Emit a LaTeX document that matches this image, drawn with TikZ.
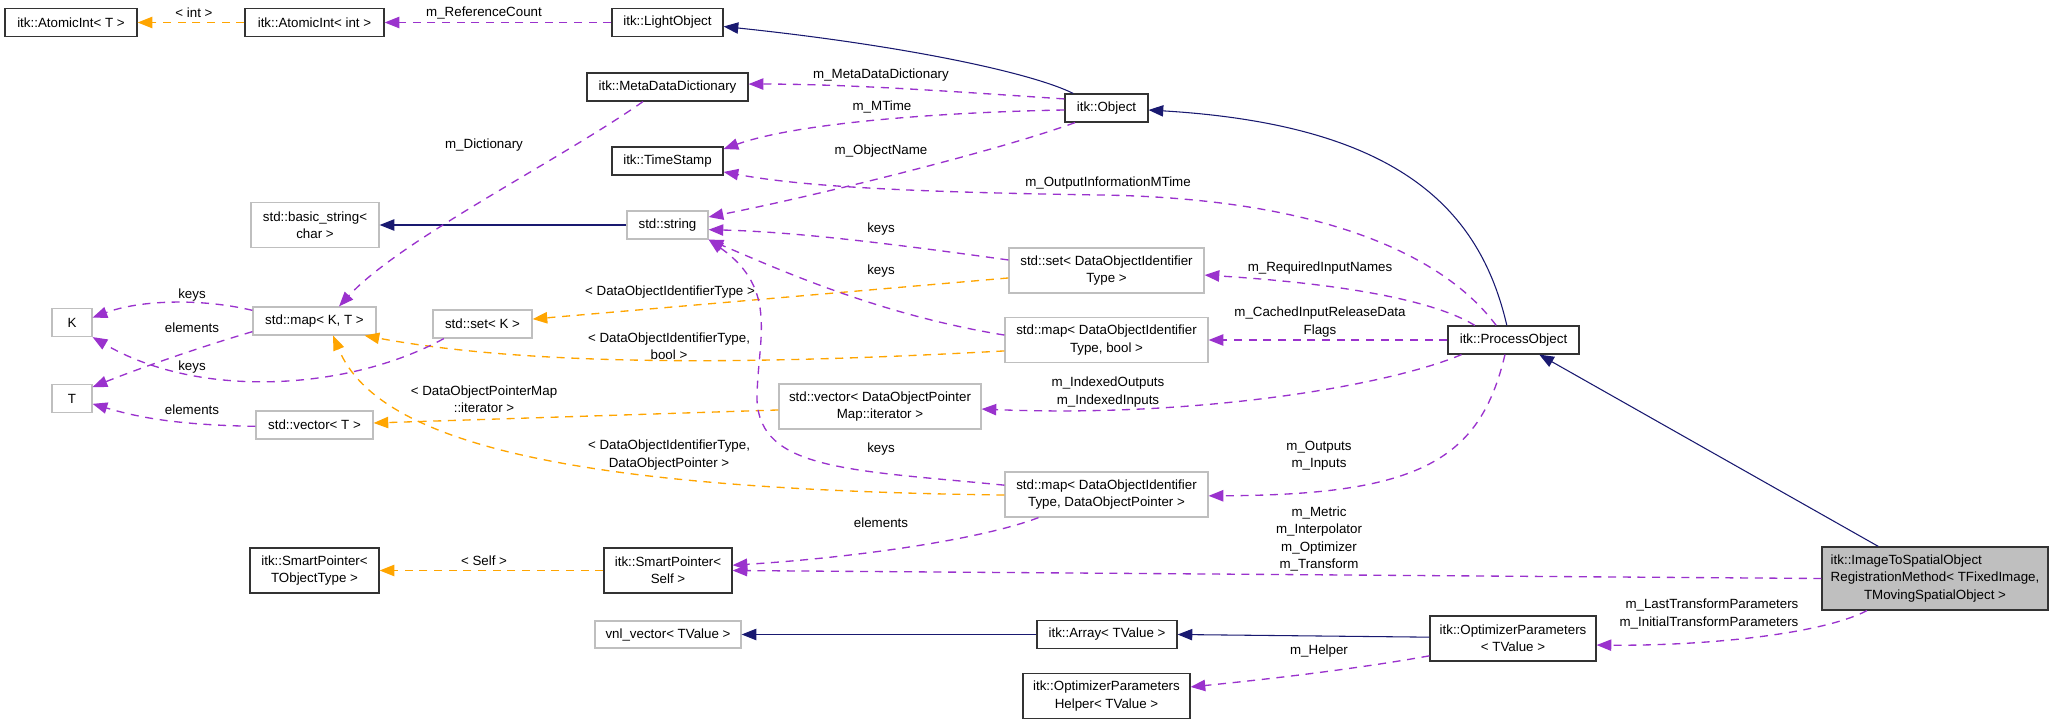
\documentclass[tikz,border=0pt]{standalone}
\usepackage{fontspec}
\setmainfont{Liberation Sans}
\usetikzlibrary{arrows.meta}
\definecolor{edgenavy}{HTML}{191970}
\definecolor{edgepurple}{HTML}{9A32CD}
\definecolor{edgeorange}{HTML}{FFA500}
\definecolor{boxgrey}{HTML}{BFBFBF}
\newlength{\dpx}
\setlength{\dpx}{0.75pt}
\tikzset{
  classbox/.style={draw=black!80, line width=0.9pt, fill=white, align=center,
    inner sep=1pt, minimum height=28\dpx},
  twoline/.style={minimum height=45\dpx},
  stdbox/.style={classbox, draw=boxgrey},
  focusbox/.style={classbox, fill=boxgrey},
  headtip/.style={-{Triangle[length=11pt, width=8.5pt]}},
  inherit/.style={headtip, line width=0.8pt, draw=edgenavy},
  usage/.style={headtip, line width=1pt, draw=edgepurple, dash pattern=on 6pt off 5pt},
  tmplflow/.style={usage, draw=edgeorange},
  edgelab/.style={inner sep=0pt, align=center},
}

\begin{document}
\begin{tikzpicture}[x=0.75pt, y=-0.75pt, font=\fontsize{10}{13}\selectfont]
\useasboundingbox (0,0) rectangle (2053,724);
% itk classes
\node[classbox, minimum width=132\dpx] (aiT) at (71,22.5) {itk::AtomicInt< T >};
\node[classbox, minimum width=139\dpx] (aiint) at (314.5,22.5) {itk::AtomicInt< int >};
\node[classbox, minimum width=111\dpx] (light) at (667.5,22.5) {itk::LightObject};
\node[classbox, minimum width=161\dpx] (mdd) at (667.5,87) {itk::MetaDataDictionary};
\node[classbox, minimum width=111\dpx] (ts) at (667.5,161) {itk::TimeStamp};
\node[classbox, minimum width=83\dpx] (obj) at (1106.5,108) {itk::Object};
\node[classbox, minimum width=131\dpx] (proc) at (1513.5,340) {itk::ProcessObject};
\node[classbox, twoline, minimum width=128\dpx] (sps) at (668,570.5) {itk::SmartPointer<\\Self >};
\node[classbox, twoline, minimum width=129\dpx] (spt) at (314.5,570.5) {itk::SmartPointer<\\TObjectType >};
\node[classbox, minimum width=140\dpx] (arr) at (1107,634.5) {itk::Array< TValue >};
\node[classbox, twoline, minimum width=167\dpx] (oph) at (1106.5,696) {itk::OptimizerParameters\\Helper< TValue >};
\node[classbox, twoline, minimum width=166\dpx] (opar) at (1513,638.5) {itk::OptimizerParameters\\< TValue >};
\node[focusbox, minimum width=226\dpx, minimum height=63\dpx] (img) at (1935,578.5)
  {\begin{tabular}{@{}l@{}}itk::ImageToSpatialObject\\RegistrationMethod< TFixedImage,\\
   \multicolumn{1}{@{}c@{}}{TMovingSpatialObject >}\end{tabular}};
% std and template parameters
\node[stdbox, twoline, minimum width=128\dpx] (bstr) at (315,225) {std::basic\_string<\\char >};
\node[stdbox, minimum width=81\dpx] (str) at (667.5,225) {std::string};
\node[stdbox, minimum width=40\dpx] (k) at (72,322.5) {K};
\node[stdbox, minimum width=40\dpx] (t) at (72,398.5) {T};
\node[stdbox, minimum width=123\dpx] (mkt) at (314.5,321) {std::map< K, T >};
\node[stdbox, minimum width=99\dpx] (sk) at (482.5,324) {std::set< K >};
\node[stdbox, minimum width=117\dpx] (vt) at (314.5,425) {std::vector< T >};
\node[stdbox, twoline, minimum width=195\dpx] (sdoit) at (1106.5,270.5) {std::set< DataObjectIdentifier\\Type >};
\node[stdbox, twoline, minimum width=203\dpx] (mdb) at (1106.5,340) {std::map< DataObjectIdentifier\\Type, bool >};
\node[stdbox, twoline, minimum width=202\dpx] (vdp) at (880,406.5) {std::vector< DataObjectPointer\\Map::iterator >};
\node[stdbox, twoline, minimum width=203\dpx] (mdp) at (1106.5,494.5) {std::map< DataObjectIdentifier\\Type, DataObjectPointer >};
\node[stdbox, minimum width=146\dpx, minimum height=27\dpx] (vnl) at (668,634.5) {vnl\_vector< TValue >};
% inheritance
\draw[inherit] ([xshift=-25pt]obj.north) .. controls (1030,72) and (900,45) .. ([yshift=-3pt]light.east);
\draw[inherit] ([xshift=-5pt]proc.north) .. controls (1480,210) and (1400,125) .. ([yshift=-1.5pt]obj.east);
\draw[inherit] (img) -- (proc);
\draw[inherit] (str.west) -- (bstr.east);
\draw[inherit] ([yshift=1pt]opar.west) -- (arr.east);
\draw[inherit] (arr.west) -- (vnl.east);
% template instances
\draw[tmplflow] (aiint.west) -- (aiT.east) node[edgelab] at (194,13) {< int >};
\draw[tmplflow] ([yshift=-5.6pt]sdoit.west) -- ([yshift=3.7pt]sk.east)
  node[edgelab] at (670,292) {< DataObjectIdentifierType >};
\draw[tmplflow] ([yshift=-8.2pt]mdb.west) .. controls (800,362) and (550,370) .. ([xshift=-9pt]mkt.south east)
  node[edgelab] at (669,346) {< DataObjectIdentifierType,\\bool >};
\draw[tmplflow] ([yshift=-2.6pt]vdp.west) -- ([yshift=1.5pt]vt.east)
  node[edgelab] at (484,399) {< DataObjectPointerMap\\::iterator >};
\draw[tmplflow] ([yshift=-0.4pt]mdp.west) .. controls (600,490) and (380,450) .. ([xshift=14pt]mkt.south)
  node[edgelab] at (669,455) {< DataObjectIdentifierType,\\DataObjectPointer >};
\draw[tmplflow] (sps.west) -- (spt.east) node[edgelab] at (484,561) {< Self >};
% members
\draw[usage] (light.west) -- (aiint.east) node[edgelab] at (484,13) {m\_ReferenceCount};
\draw[usage] ([yshift=6.8pt]obj.west) .. controls (960,92) and (850,84) .. ([yshift=2.2pt]mdd.east)
  node[edgelab] at (881,75) {m\_MetaDataDictionary};
\draw[usage] ([yshift=-1.5pt]obj.west) .. controls (950,112) and (800,122) .. ([yshift=9pt]ts.east)
  node[edgelab] at (882,107) {m\_MTime};
\draw[usage] ([xshift=-23.6pt]obj.south) .. controls (1000,150) and (820,195) .. ([yshift=6pt]str.east)
  node[edgelab] at (881,151) {m\_ObjectName};
\draw[usage] ([xshift=-13pt]proc.north) .. controls (1440,250) and (1310,198) .. (1100,195)
  .. controls (900,192) and (800,186) .. ([yshift=-8.2pt]ts.east)
  node[edgelab] at (1108,183) {m\_OutputInformationMTime};
\draw[usage] ([xshift=-18.4pt]mdd.south) .. controls (560,160) and (400,240) .. ([xshift=18.4pt]mkt.north)
  node[edgelab] at (484,145) {m\_Dictionary};
\draw[usage] ([yshift=7.9pt]sdoit.west) .. controls (900,245) and (800,232) .. ([yshift=-3.5pt]str.east)
  node[edgelab] at (881,229) {keys};
\draw[usage] ([yshift=3.7pt]mdb.west) .. controls (880,315) and (780,270) .. (str.south east)
  node[edgelab] at (881,271) {keys};
\draw[usage] ([yshift=7pt]mdp.west) .. controls (850,470) and (760,470) .. (757,400)
  .. controls (757,340) and (780,290) .. (str.south east)
  node[edgelab] at (881,449) {keys};
\draw[usage] ([yshift=8pt]mkt.west) .. controls (200,298) and (140,300) .. ([yshift=3.7pt]k.east)
  node[edgelab] at (192,295) {keys};
\draw[usage] ([yshift=-8pt]mkt.west) .. controls (190,350) and (130,372) .. ([yshift=8.6pt]t.east)
  node[edgelab] at (192,328) {elements};
\draw[usage] ([xshift=-29pt]sk.south) .. controls (350,390) and (200,400) .. (k.south east)
  node[edgelab] at (192,367) {keys};
\draw[usage] ([yshift=-1pt]vt.west) .. controls (180,425) and (140,418) .. ([yshift=-4pt]t.east)
  node[edgelab] at (192,410) {elements};
\draw[usage] ([xshift=-29pt]proc.north) .. controls (1430,298) and (1330,283) .. ([yshift=-3.4pt]sdoit.east)
  node[edgelab] at (1320,268) {m\_RequiredInputNames};
\draw[usage] (proc.west) -- (mdb.east)
  node[edgelab] at (1320,322) {m\_CachedInputReleaseData\\Flags};
\draw[usage] ([xshift=-39pt]proc.south) .. controls (1390,385) and (1200,418) .. ([yshift=-1.9pt]vdp.east)
  node[edgelab] at (1108,392) {m\_IndexedOutputs\\m\_IndexedInputs};
\draw[usage] ([xshift=-6.4pt]proc.south) .. controls (1480,460) and (1420,495) .. ([yshift=-1pt]mdp.east)
  node[edgelab] at (1319,456) {m\_Outputs\\m\_Inputs};
\draw[usage] ([xshift=-51pt]mdp.south) .. controls (980,540) and (850,558) .. ([yshift=4pt]sps.east)
  node[edgelab] at (881,523) {elements};
\draw[usage] (img.west) -- (sps.east)
  node[edgelab] at (1319,539) {m\_Metric\\m\_Interpolator\\m\_Optimizer\\m\_Transform};
\draw[usage] ([yshift=-13pt]opar.west) .. controls (1350,670) and (1260,680) .. ([yshift=6.8pt]oph.east)
  node[edgelab] at (1319,651) {m\_Helper};
\draw[usage] ([xshift=-51pt]img.south) .. controls (1820,635) and (1700,646) .. ([yshift=-4.9pt]opar.east)
  node[edgelab, align=right] at (1709,614) {m\_LastTransformParameters\\m\_InitialTransformParameters};
\end{tikzpicture}
\end{document}
